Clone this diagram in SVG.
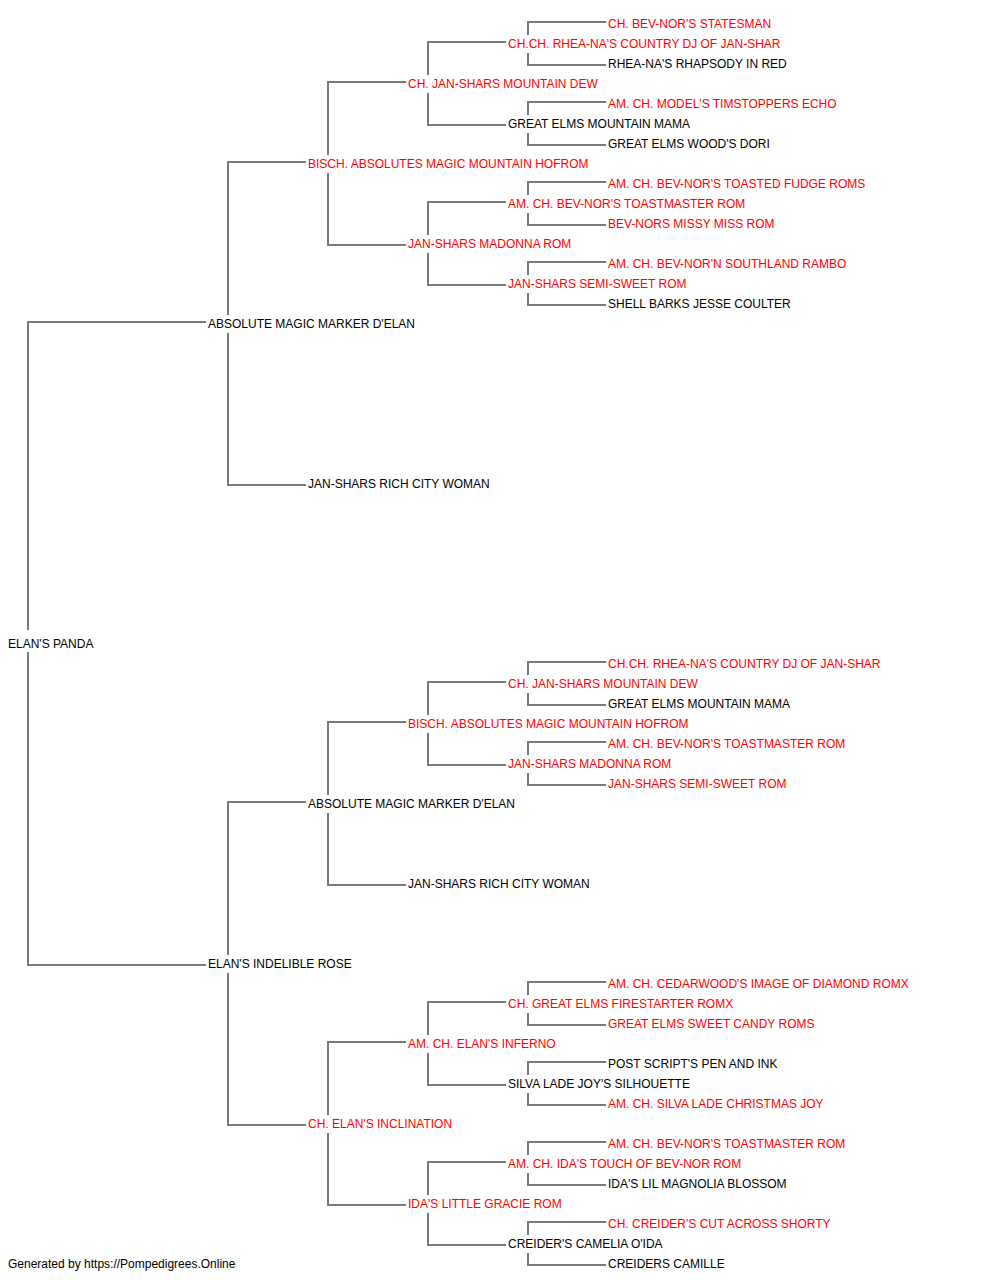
<svg xmlns="http://www.w3.org/2000/svg" width="1000" height="1280" viewBox="0 0 1000 1280">
<style>
text{font-family:"Liberation Sans",Arial,sans-serif;font-size:12px}
.r{fill:#ff0000}
.b{fill:#000000}
.c path{fill:none;stroke:#7a7a7a;stroke-width:2}
</style>
<rect width="1000" height="1280" fill="#ffffff"/>
<g class="c" id="connectors">
<path d="M28,630V322H206"/><path d="M28,652V965H206"/>
<path d="M228,315V162H306"/><path d="M228,333V485H306"/>
<path d="M328,155V82H406"/><path d="M328,173V245H406"/>
<path d="M428,75V42H506"/><path d="M428,93V125H506"/>
<path d="M528,35V22H606"/><path d="M528,53V65H606"/>
<path d="M528,115V102H606"/><path d="M528,133V145H606"/>
<path d="M428,235V202H506"/><path d="M428,253V285H506"/>
<path d="M528,195V182H606"/><path d="M528,213V225H606"/>
<path d="M528,275V262H606"/><path d="M528,293V305H606"/>
<path d="M228,955V802H306"/><path d="M228,973V1125H306"/>
<path d="M328,795V722H406"/><path d="M328,813V885H406"/>
<path d="M428,715V682H506"/><path d="M428,733V765H506"/>
<path d="M528,675V662H606"/><path d="M528,693V705H606"/>
<path d="M528,755V742H606"/><path d="M528,773V785H606"/>
<path d="M328,1115V1042H406"/><path d="M328,1133V1205H406"/>
<path d="M428,1035V1002H506"/><path d="M428,1053V1085H506"/>
<path d="M528,995V982H606"/><path d="M528,1013V1025H606"/>
<path d="M528,1075V1062H606"/><path d="M528,1093V1105H606"/>
<path d="M428,1195V1162H506"/><path d="M428,1213V1245H506"/>
<path d="M528,1155V1142H606"/><path d="M528,1173V1185H606"/>
<path d="M528,1235V1222H606"/><path d="M528,1253V1265H606"/>
</g>
<g id="n0"><text class="r" x="608" y="28">CH. BEV-NOR'S STATESMAN</text></g>
<g id="n1"><text class="r" x="508" y="48">CH.CH. RHEA-NA'S COUNTRY DJ OF JAN-SHAR</text></g>
<g id="n2"><text class="b" x="608" y="68">RHEA-NA'S RHAPSODY IN RED</text></g>
<g id="n3"><text class="r" x="408" y="88">CH. JAN-SHARS MOUNTAIN DEW</text></g>
<g id="n4"><text class="r" x="608" y="108">AM. CH. MODEL'S TIMSTOPPERS ECHO</text></g>
<g id="n5"><text class="b" x="508" y="128">GREAT ELMS MOUNTAIN MAMA</text></g>
<g id="n6"><text class="b" x="608" y="148">GREAT ELMS WOOD'S DORI</text></g>
<g id="n7"><text class="r" x="308" y="168">BISCH. ABSOLUTES MAGIC MOUNTAIN HOFROM</text></g>
<g id="n8"><text class="r" x="608" y="188">AM. CH. BEV-NOR'S TOASTED FUDGE ROMS</text></g>
<g id="n9"><text class="r" x="508" y="208">AM. CH. BEV-NOR'S TOASTMASTER ROM</text></g>
<g id="n10"><text class="r" x="608" y="228">BEV-NORS MISSY MISS ROM</text></g>
<g id="n11"><text class="r" x="408" y="248">JAN-SHARS MADONNA ROM</text></g>
<g id="n12"><text class="r" x="608" y="268">AM. CH. BEV-NOR'N SOUTHLAND RAMBO</text></g>
<g id="n13"><text class="r" x="508" y="288">JAN-SHARS SEMI-SWEET ROM</text></g>
<g id="n14"><text class="b" x="608" y="308">SHELL BARKS JESSE COULTER</text></g>
<g id="n15"><text class="b" x="208" y="328">ABSOLUTE MAGIC MARKER D'ELAN</text></g>
<g id="n23"><text class="b" x="308" y="488">JAN-SHARS RICH CITY WOMAN</text></g>
<g id="n31"><text class="b" x="8" y="648">ELAN'S PANDA</text></g>
<g id="n32"><text class="r" x="608" y="668">CH.CH. RHEA-NA'S COUNTRY DJ OF JAN-SHAR</text></g>
<g id="n33"><text class="r" x="508" y="688">CH. JAN-SHARS MOUNTAIN DEW</text></g>
<g id="n34"><text class="b" x="608" y="708">GREAT ELMS MOUNTAIN MAMA</text></g>
<g id="n35"><text class="r" x="408" y="728">BISCH. ABSOLUTES MAGIC MOUNTAIN HOFROM</text></g>
<g id="n36"><text class="r" x="608" y="748">AM. CH. BEV-NOR'S TOASTMASTER ROM</text></g>
<g id="n37"><text class="r" x="508" y="768">JAN-SHARS MADONNA ROM</text></g>
<g id="n38"><text class="r" x="608" y="788">JAN-SHARS SEMI-SWEET ROM</text></g>
<g id="n39"><text class="b" x="308" y="808">ABSOLUTE MAGIC MARKER D'ELAN</text></g>
<g id="n43"><text class="b" x="408" y="888">JAN-SHARS RICH CITY WOMAN</text></g>
<g id="n47"><text class="b" x="208" y="968">ELAN'S INDELIBLE ROSE</text></g>
<g id="n48"><text class="r" x="608" y="988">AM. CH. CEDARWOOD'S IMAGE OF DIAMOND ROMX</text></g>
<g id="n49"><text class="r" x="508" y="1008">CH. GREAT ELMS FIRESTARTER ROMX</text></g>
<g id="n50"><text class="r" x="608" y="1028">GREAT ELMS SWEET CANDY ROMS</text></g>
<g id="n51"><text class="r" x="408" y="1048">AM. CH. ELAN'S INFERNO</text></g>
<g id="n52"><text class="b" x="608" y="1068">POST SCRIPT'S PEN AND INK</text></g>
<g id="n53"><text class="b" x="508" y="1088">SILVA LADE JOY'S SILHOUETTE</text></g>
<g id="n54"><text class="r" x="608" y="1108">AM. CH. SILVA LADE CHRISTMAS JOY</text></g>
<g id="n55"><text class="r" x="308" y="1128">CH. ELAN'S INCLINATION</text></g>
<g id="n56"><text class="r" x="608" y="1148">AM. CH. BEV-NOR'S TOASTMASTER ROM</text></g>
<g id="n57"><text class="r" x="508" y="1168">AM. CH. IDA'S TOUCH OF BEV-NOR ROM</text></g>
<g id="n58"><text class="b" x="608" y="1188">IDA'S LIL MAGNOLIA BLOSSOM</text></g>
<g id="n59"><text class="r" x="408" y="1208">IDA'S LITTLE GRACIE ROM</text></g>
<g id="n60"><text class="r" x="608" y="1228">CH. CREIDER'S CUT ACROSS SHORTY</text></g>
<g id="n61"><text class="b" x="508" y="1248">CREIDER'S CAMELIA O'IDA</text></g>
<g id="n62"><text class="b" x="608" y="1268">CREIDERS CAMILLE</text></g>
<g id="footer"><text class="b" x="8" y="1268">Generated by https://Pompedigrees.Online</text></g>
</svg>
